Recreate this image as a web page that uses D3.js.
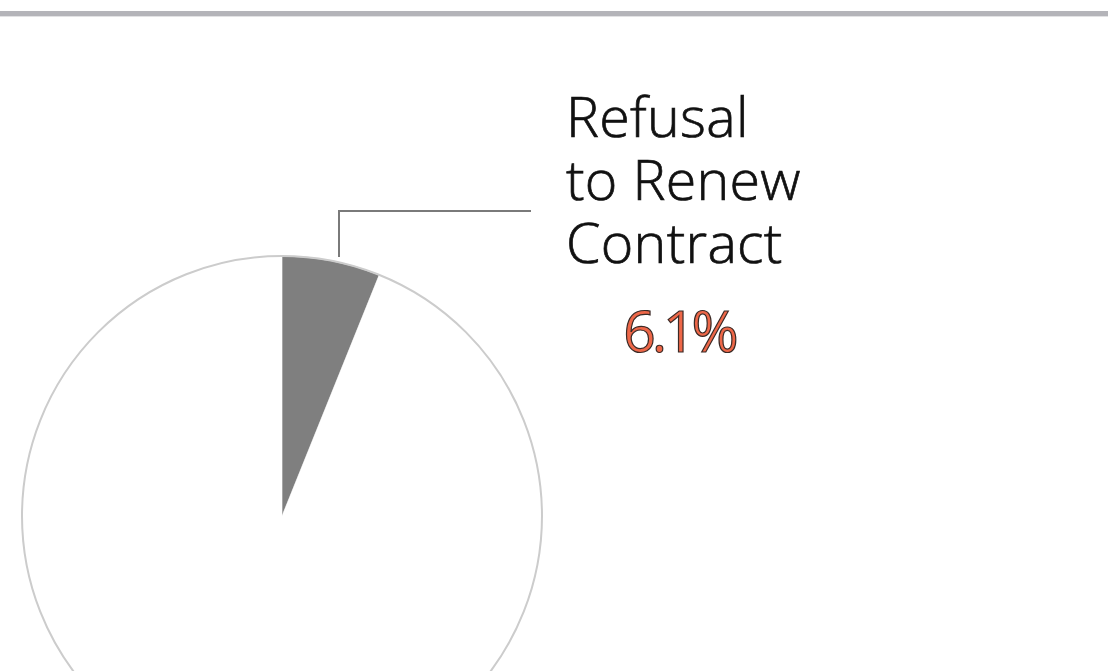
<!DOCTYPE html>
<html><head><meta charset="utf-8">
<script src="https://cdn.jsdelivr.net/npm/d3@7"></script>
<style>html,body{margin:0;padding:0;background:#fff;}svg{display:block;}</style>
</head><body>
<svg id="c" width="1108" height="671"></svg>
<script>
const categories = ["Refusal to Renew Contract", "Other"];
const values = [6.1, 93.9];
const labelLines = ["Refusal", "to Renew", "Contract"];
const valueLabel = "6.1%";

const svg = d3.select("#c");
svg.append("rect").attr("x",0).attr("y",11).attr("width",1108).attr("height",5).attr("fill","#b4b4b9");
svg.append("rect").attr("x",0).attr("y",16).attr("width",1108).attr("height",1).attr("fill","#e2e2e4");

const cx = 282, cy = 516, r = 260;
const pie = d3.pie().sort(null).value(d => d)(values);
const arc = d3.arc().innerRadius(0).outerRadius(r);
const g = svg.append("g").attr("transform", `translate(${cx},${cy})`);
const colors = ["#7f7f7f", "#ffffff"];
g.selectAll("path").data(pie).join("path")
  .attr("d", arc)
  .attr("fill", (d,i) => colors[i])
  .attr("stroke", (d,i) => i === 0 ? "#d0d0d0" : "none")
  .attr("stroke-width", 1);
g.append("circle").attr("r", r).attr("fill","none").attr("stroke","#cccccc").attr("stroke-width",2);

// leader line
svg.append("path")
  .attr("d", `M${339},${cy - r + 1} L${339},211 L531,211`)
  .attr("fill","none").attr("stroke","#7a7a7a").attr("stroke-width",2);

labelLines.forEach((s,i)=> svg.append("text").attr("x",566).attr("y",137 + i*63)
  .attr("font-family","'Open Sans', sans-serif").attr("font-weight",300)
  .attr("font-size",55.5).attr("fill","#111").attr("stroke","#111").attr("stroke-width",0.7)
  .attr("letter-spacing",0.3)
  .text(s));

svg.append("text").attr("x",679).attr("y",352).attr("text-anchor","middle")
  .attr("font-family","'Open Sans', sans-serif").attr("font-weight",500)
  .attr("font-size",57).attr("letter-spacing",-4)
  .attr("fill","#ee6748").attr("stroke","#3a2a26").attr("stroke-width",1.2)
  .text(valueLabel);
</script>
</body></html>
